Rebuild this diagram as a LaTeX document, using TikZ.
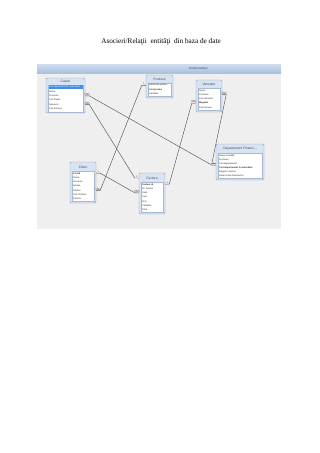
\documentclass[tikz,border=0pt]{standalone}
\usepackage{fontspec}
\setmainfont{Liberation Serif}
\setsansfont{Liberation Sans}
\usetikzlibrary{calc}
\definecolor{panelbg}{HTML}{EFEFEF}
\definecolor{bartop}{HTML}{CFDDEF}
\definecolor{barbot}{HTML}{A9C1DF}
\definecolor{tblborder}{HTML}{8CA3C0}
\definecolor{tblfill}{HTML}{D9E4F2}
\definecolor{fborder}{HTML}{A8BAD2}
\definecolor{hdrtext}{HTML}{3A4A60}
\definecolor{selblue}{HTML}{3D8EE6}
\definecolor{relcol}{HTML}{555555}
\tikzset{
  tbl/.style={draw=tblborder, fill=tblfill, rounded corners=1.2pt, line width=0.45pt, inner sep=0pt},
  fldbox/.style={draw=fborder, fill=white, line width=0.3pt, inner sep=0pt},
  hdr/.style={font=\fontsize{3.3}{4}\selectfont\sffamily, text=hdrtext, inner sep=0pt},
  fld/.style={font=\fontsize{2.3}{3}\selectfont\sffamily, anchor=west, inner sep=0pt, text=black!85},
  fldb/.style={fld, font=\fontsize{2.3}{3}\selectfont\sffamily\bfseries},
  rel/.style={draw=relcol, line width=0.45pt},
  mk/.style={font=\fontsize{2.6}{3}\selectfont\sffamily, inner sep=0.2pt, text=relcol},
}
\begin{document}
\begin{tikzpicture}[x=1pt,y=-1pt]
\useasboundingbox[fill=white] (0,0) rectangle (320,453);
% title
\node[font=\fontsize{7.2}{8}\selectfont] (title) at (161,42) {Asocieri/Relaţii\ \ entităţi\ \ din baza de date};
% panel
\node[fill=panelbg, minimum width=244pt, minimum height=165pt, inner sep=0pt] (panel) at (159,146.5) {};
\node[top color=bartop, bottom color=barbot, minimum width=244pt, minimum height=9pt, inner sep=0pt] (bar) at (159,68.5) {};
\node[font=\fontsize{3}{4}\selectfont\sffamily, text=hdrtext, inner sep=0pt] (bartitle) at (198.5,68.5) {Relationships};

% Casier
\node[tbl, minimum width=39pt, minimum height=35pt] (casier) at (65.5,95.5) {};
\node[hdr] (cash) at (65.5,81.5) {Casier};
\node[fldbox, minimum width=35pt, minimum height=27pt] (casbox) at (65.5,98.5) {};
\node[fill=selblue, minimum width=34pt, minimum height=3.8pt, inner sep=0pt] (cassel) at (65.5,87.2) {};
\node[fld, text=white] (cas1) at (49,87.2) {Cod departament in subordine};
\node[fld] (cas2) at (49,91.5) {Nume};
\node[fld] (cas3) at (49,95.8) {Prenume};
\node[fld] (cas4) at (49,100.1) {Cod Casier};
\node[fld] (cas5) at (49,104.4) {Numar id};
\node[fld] (cas6) at (49,108.7) {Cod Factura};

% Produse
\node[tbl, minimum width=27pt, minimum height=23pt] (prod) at (159.5,86.5) {};
\node[hdr] (prodh) at (159.5,79) {Produse};
\node[fldbox, minimum width=23pt, minimum height=13.5pt] (prodbox) at (159.5,89.75) {};
\node[fld] (pro1) at (149,85.3) {Denumire produs};
\node[fldb] (pro2) at (149,89.6) {Cod produs};
\node[fld] (pro3) at (149,93.9) {Cantitate};

% Vanzator
\node[tbl, minimum width=26pt, minimum height=32pt] (vanz) at (209,96) {};
\node[hdr] (vanh) at (209,84) {Vanzator};
\node[fldbox, minimum width=22pt, minimum height=22.5pt] (vanbox) at (209,99.25) {};
\node[fld] (van1) at (199,90.3) {Nume};
\node[fld] (van2) at (199,94.6) {Prenume};
\node[fld] (van3) at (199,98.9) {Cod Vanzator};
\node[fldb] (van4) at (199,103.2) {Magazin};
\node[fld] (van5) at (199,107.5) {Cod Factura};

% Departament Financiar
\node[tbl, minimum width=48pt, minimum height=36pt] (df) at (240,162) {};
\node[hdr] (dfh) at (240,149) {Departament Financi...};
\node[fldbox, minimum width=44pt, minimum height=25.5pt] (dfbox) at (240,165.75) {};
\node[fld] (df1) at (219,155.2) {Nume Contabil};
\node[fld] (df2) at (219,159.4) {Prenume};
\node[fld] (df3) at (219,163.6) {Cod departament};
\node[fldb] (df4) at (219,167.8) {Cod departament in subordine};
\node[fld] (df5) at (219,172.0) {Registru vanzari};
\node[fld] (df6) at (219,176.2) {Data Incepe Numarul id};

% Client
\node[tbl, minimum width=26pt, minimum height=41pt] (client) at (83,182.5) {};
\node[hdr] (clih) at (83,167) {Client};
\node[fldbox, minimum width=22pt, minimum height=30.5pt] (clibox) at (83,186.25) {};
\node[fldb] (cli1) at (73,173.2) {Cod id};
\node[fld] (cli2) at (73,177.5) {Nume};
\node[fld] (cli3) at (73,181.8) {Prenume};
\node[fld] (cli4) at (73,186.1) {Adresa};
\node[fld] (cli5) at (73,190.4) {Telefon};
\node[fld] (cli6) at (73,194.7) {Cod Produse};
\node[fld] (cli7) at (73,199.0) {Factura};

% Factura
\node[tbl, minimum width=26pt, minimum height=41pt] (fact) at (152,193.5) {};
\node[hdr] (facth) at (152,178) {Factura};
\node[fldbox, minimum width=22pt, minimum height=30.5pt] (facbox) at (152,197.25) {};
\node[fldb] (fac1) at (142,184.2) {Factura id};
\node[fld] (fac2) at (142,188.5) {Nr. factura};
\node[fld] (fac3) at (142,192.8) {Data};
\node[fld] (fac4) at (142,197.1) {Cost};
\node[fld] (fac5) at (142,201.4) {Pret};
\node[fld] (fac6) at (142,205.7) {Cantitate};
\node[fld] (fac7) at (142,210.0) {Total};

% relationships
\draw[rel] (casier.east |- cas3) -- ++(4,0) -- ($(df.west |- df3)+(-4,1.5)$) -- ($(df.west |- df3)+(0,1.5)$);
\draw[rel] (casier.east |- cas5) -- ++(4,0) -- ($(fact.west |- facth)+(-4,0)$) -- (fact.west |- facth);
\draw[rel] (client.east |- cli1) -- ++(4,0) -- ($(fact.west |- fac3)+(-4,0)$) -- (fact.west |- fac3);
\draw[rel] (client.east |- cli5) -- ++(4,0) -- ($(prod.west |- pro1)+(-4,0)$) -- (prod.west |- pro1);
\draw[rel] (fact.east |- fac1) -- ++(4,0) -- ($(vanz.west |- van4)+(-4,0)$) -- (vanz.west |- van4);
\draw[rel] (vanz.east |- van2) -- ++(4,0) -- ($(df.west |- df3)+(-4,0)$) -- (df.west |- df3);

% cardinality marks
\node[mk, anchor=south] (m1) at ($(casier.east |- cas3)+(2,0)$) {$\infty$};
\node[mk, anchor=south] (m2) at ($(casier.east |- cas5)+(2,0)$) {$\infty$};
\node[mk, anchor=south] (m3) at ($(df.west |- df3)+(-2,1.5)$) {1};
\node[mk, anchor=south] (m4) at ($(fact.west |- facth)+(-2,0)$) {1};
\node[mk, anchor=south] (m5) at ($(client.east |- cli1)+(2,0)$) {1};
\node[mk, anchor=south] (m6) at ($(fact.west |- fac3)+(-2,0)$) {$\infty$};
\node[mk, anchor=south] (m7) at ($(client.east |- cli5)+(2,0)$) {$\infty$};
\node[mk, anchor=south] (m8) at ($(prod.west |- pro1)+(-2,0)$) {1};
\node[mk, anchor=south] (m9) at ($(fact.east |- fac1)+(2,0)$) {1};
\node[mk, anchor=south] (m10) at ($(vanz.west |- van4)+(-2,0)$) {$\infty$};
\node[mk, anchor=south] (m11) at ($(vanz.east |- van2)+(2,0)$) {$\infty$};
\end{tikzpicture}
\end{document}
